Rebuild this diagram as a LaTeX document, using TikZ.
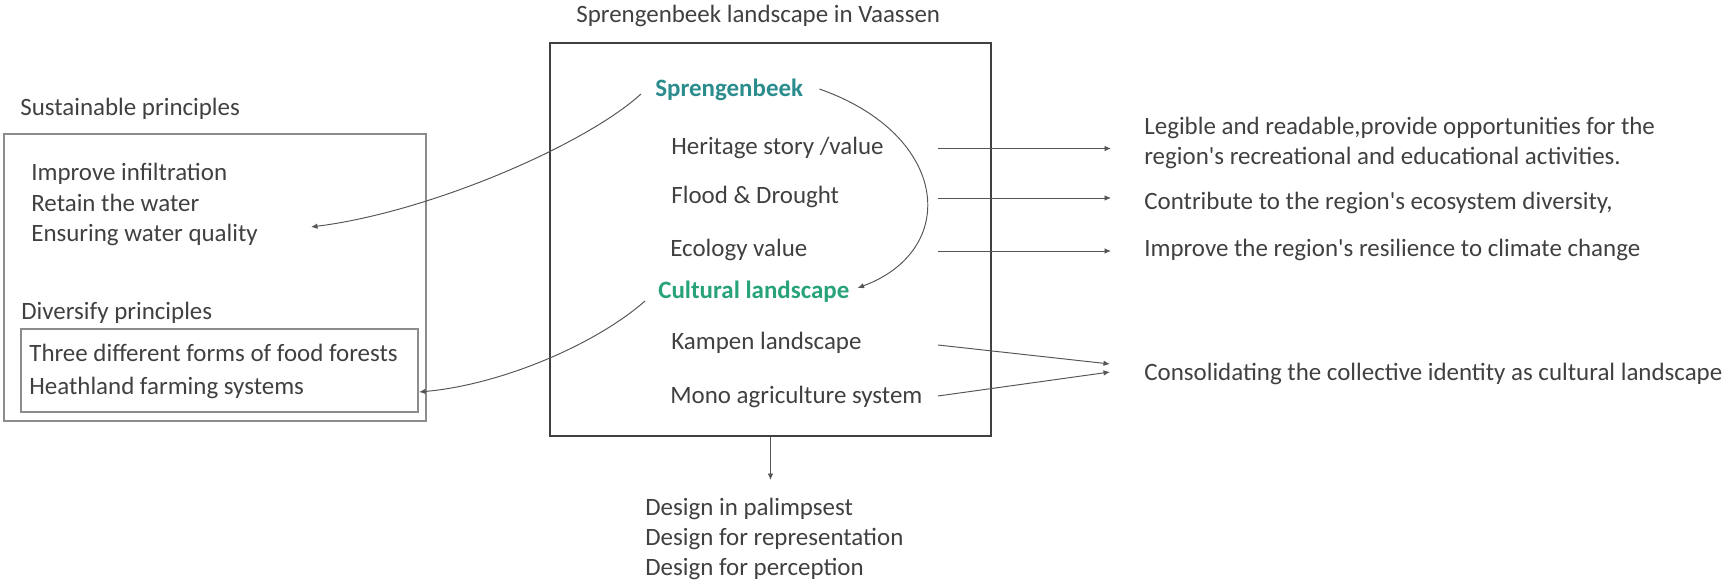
\documentclass[tikz,border=0pt]{standalone}
\usepackage{fontspec}
\setmainfont{Carlito}
\usepackage{tikz}
\usetikzlibrary{arrows.meta}
\definecolor{txtgray}{HTML}{404040}
\definecolor{linegray}{HTML}{555555}
\definecolor{boxgray}{HTML}{8C8C8C}
\definecolor{sprteal}{HTML}{2A8C8C}
\definecolor{culgreen}{HTML}{28A27A}
\newcommand{\fnt}{\fontsize{14.2}{17.6}\selectfont}

\begin{document}
\begin{tikzpicture}[x=0.02cm, y=-0.02cm, font=\fnt, text=txtgray,
  lbl/.style={anchor=base west, inner sep=0pt},
  head/.style={lbl, font=\fnt\bfseries},
  arr/.style={draw=linegray, line width=0.55pt, -{Latex[length=1.3mm,width=1.1mm]}}]
\useasboundingbox (0,0) rectangle (1729,584);

% Left: principles
\node[lbl] (sust) at (20,116) {Sustainable principles};
\draw[boxgray, line width=0.8pt] (4,134) rectangle (426,421);
\node[lbl] (impr) at (31,181) {Improve infiltration};
\node[lbl] (reta) at (31,212) {Retain the water};
\node[lbl] (ensu) at (31,242) {Ensuring water quality};
\node[lbl] (divs) at (21,320) {Diversify principles};
\draw[boxgray, line width=0.8pt] (21,329) rectangle (418,412);
\node[lbl] (food) at (29,362) {Three different forms of food forests};
\node[lbl] (heat) at (29,395) {Heathland farming systems};

% Middle: the landscape box
\node[lbl] (title) at (576,23) {Sprengenbeek landscape in Vaassen};
\node[draw=txtgray, line width=1.1pt, inner sep=0pt, minimum width=8.82cm, minimum height=7.86cm] (mainbox) at (770.5,239.5) {};
\node[head, text=sprteal] (spr) at (655,97) {Sprengenbeek};
\node[lbl] (herit) at (671,155) {Heritage story /value};
\node[lbl] (flood) at (671,204) {Flood \& Drought};
\node[lbl] (ecol) at (670,257) {Ecology value};
\node[head, text=culgreen] (cult) at (658,299) {Cultural landscape};
\node[lbl] (kamp) at (671,350) {Kampen landscape};
\node[lbl] (mono) at (670,403) {Mono agriculture system};

% Bottom: design
\node[lbl] (des1) at (645,515) {Design in palimpsest};
\node[lbl] (des2) at (645,545) {Design for representation};
\node[lbl] (des3) at (645,575) {Design for perception};

% Right: outcomes
\node[lbl] (leg1) at (1144,135) {Legible and readable,provide opportunities for the};
\node[lbl] (leg2) at (1144,165) {region\textquotesingle s recreational and educational activities.};
\node[lbl] (contr) at (1144,210) {Contribute to the region\textquotesingle s ecosystem diversity,};
\node[lbl] (resil) at (1144,257) {Improve the region\textquotesingle s resilience to climate change};
\node[lbl] (cons) at (1144,380) {Consolidating the collective identity as cultural landscape};

% Arrow ends
\coordinate (ax) at (938,0);
\coordinate (bx) at (1111,0);
\coordinate (ensutip) at (311,227);
\coordinate (heattip) at (419,392);
\coordinate (kamptip) at (1110,364);
\coordinate (monotip) at (1110,372);
\coordinate (destop) at (770.5,480);

% Connectors
\draw[arr] ([shift={(-14,-3)}]spr.base west) .. controls (585,145) and (430,212) .. (ensutip);
\draw[arr] ([shift={(-13,2)}]cult.base west) .. controls (595,345) and (500,385) .. (heattip);
\draw[arr] ([shift={(16,-8)}]spr.base east) .. controls (950,135) and (960,250) .. ([shift={(8,-11)}]cult.base east);
\draw[arr] ([yshift=0.13cm]herit.base -| ax) -- ([yshift=0.13cm]herit.base -| bx);
\draw[arr] ([yshift=0.12cm]flood.base -| ax) -- ([yshift=0.12cm]flood.base -| bx);
\draw[arr] ([yshift=0.12cm]ecol.base -| ax) -- ([yshift=0.12cm]ecol.base -| bx);
\draw[arr] ([yshift=0.1cm]kamp.base -| ax) -- (kamptip);
\draw[arr] ([yshift=0.14cm]mono.base -| ax) -- (monotip);
\draw[arr] (mainbox.south) -- (destop);
\end{tikzpicture}
\end{document}
